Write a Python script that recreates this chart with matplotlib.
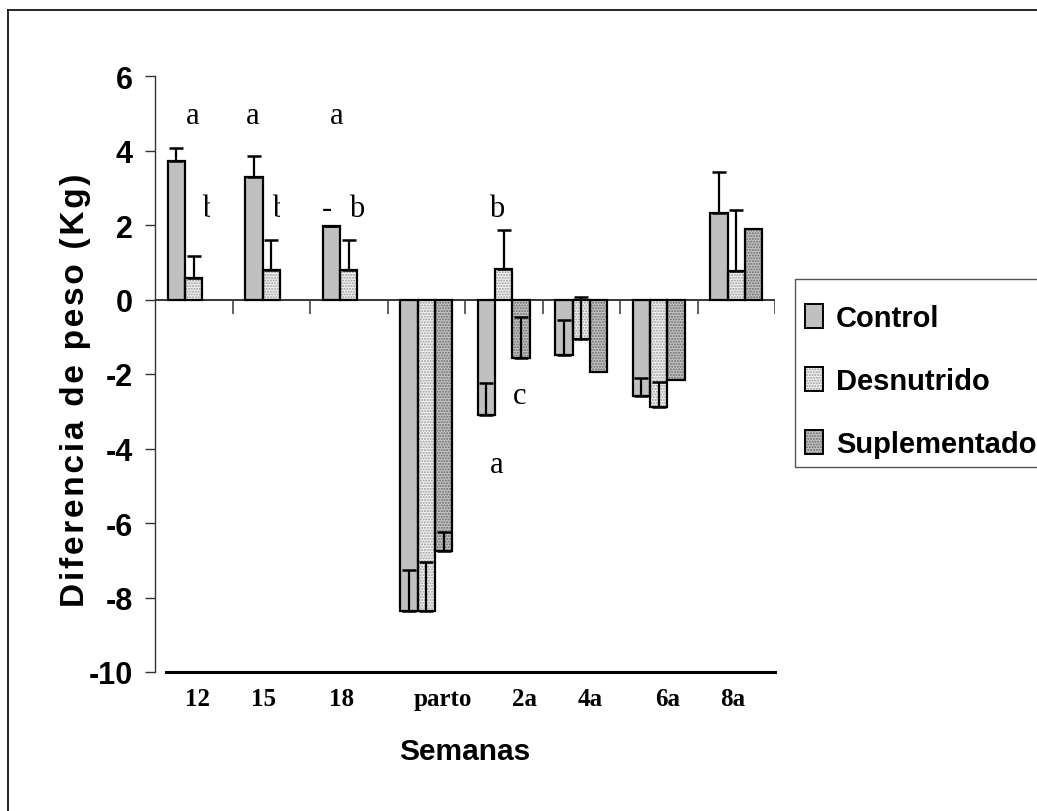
import numpy as np
import matplotlib.pyplot as plt
from matplotlib.patches import Patch, Rectangle
from matplotlib.lines import Line2D
from matplotlib.legend_handler import HandlerTuple
from matplotlib.transforms import Bbox, TransformedBbox

# weight gain per period, kg, with SE shown upward only
semanas = ['12', '15', '18', 'parto', '2a', '4a', '6a', '8a']
control = [3.72, 3.28, 1.97, -8.35, -3.10, -1.50, -2.58, 2.31]
control_err = [0.36, 0.57, 0.0, 1.09, 0.87, 0.96, 0.46, 1.12]
desnutrido = [0.57, 0.80, 0.80, -8.35, 0.81, -1.06, -2.88, 0.77]
desnutrido_err = [0.59, 0.79, 0.79, 1.30, 1.05, 1.12, 0.66, 1.63]
suplementado = [None, None, None, -6.75, -1.57, -1.94, -2.17, 1.89]
suplementado_err = [0, 0, 0, 0.50, 1.11, 0, 0, 0]
grupos = ['Control', 'Desnutrido', 'Suplementado']

# small shifts of the week labels under each group
label_shift = [0.05, -0.10, -0.09, 0.22, 0.27, 0.12, 0.12, -0.04]

# significance letters: group index, shift, height, text, half-hidden
sig_cat = [0, 1, 2, 0, 1, 2, 2, 4, 4, 4]
sig_dx = [-0.01, -0.24, -0.155, 0.206, 0.113, -0.285, 0.10, -0.09, 0.20, -0.09]
sig_y = [4.75, 4.75, 4.75, 2.25, 2.25, 2.25, 2.25, 2.25, -2.78, -4.63]
sig_txt = ['a', 'a', 'a', 'b', 'b', '-', 'b', 'b', 'c', 'a']
sig_half = [False, False, False, True, True, False, False, False, False, False]

sans = ['Liberation Sans Narrow', 'Liberation Sans', 'DejaVu Sans']
serif = ['Liberation Serif', 'DejaVu Serif']
plt.rcParams['hatch.linewidth'] = 1.0

fig = plt.figure(figsize=(10.37, 8.12), dpi=100)
ax = fig.add_axes([155/1037, 1-673/812, 620/1037, 596/812])

x = np.arange(len(semanas))
w = 0.225
estilos = [('#c0c0c0', None, None),
           ('#f2f2f2', '......', '#9a9a9a'),
           ('#c4c4c4', '......', '#6a6a6a')]
datos = [(control, control_err), (desnutrido, desnutrido_err),
         (suplementado, suplementado_err)]

handles = []
for k, ((vals, errs), (fc, hatch, hc)) in enumerate(zip(datos, estilos)):
    v = np.array([np.nan if a is None else a for a in vals], float)
    e = np.array(errs, float)
    m = ~np.isnan(v)
    xs = x[m] + (k - 1) * w
    ax.bar(xs, v[m], w, color=fc, hatch=hatch, edgecolor=hc or fc,
           linewidth=0, zorder=2)
    ax.bar(xs, v[m], w, fill=False, edgecolor='black', linewidth=1.6, zorder=3)
    show = m & ((e > 0) | (k < 2))
    ax.errorbar(x[show] + (k - 1) * w, v[show],
                yerr=[np.zeros(show.sum()), e[show]], fmt='none',
                ecolor='black', elinewidth=1.6, capsize=5, capthick=1.8,
                zorder=4)
    handles.append((Patch(facecolor=fc, hatch=hatch, edgecolor=hc or fc, linewidth=0),
                    Patch(fill=False, edgecolor='black', linewidth=1.4)))

# zero line with group separators
ax.axhline(0, color='black', lw=1.1, zorder=1)
ax.vlines(np.arange(0.5, len(semanas)), 0, -0.38, color='#444444', lw=1.2)
ax.axhline(-10, xmin=0.018, xmax=1.0, color='black', lw=2.2, clip_on=False)

ax.set_xlim(-0.5, len(semanas) - 0.5)
ax.set_ylim(-10, 6)
ax.set_yticks(np.arange(-10, 7, 2))
ax.set_yticklabels([str(t) for t in range(-10, 7, 2)],
                   fontfamily=sans, fontweight='bold', fontsize=22)
ax.tick_params(axis='y', direction='out', length=7, width=1, color='#333333', pad=9)
ax.set_xticks(x + np.array(label_shift))
ax.set_xticklabels(semanas, fontfamily=serif, fontweight='bold', fontsize=18)
ax.tick_params(axis='x', length=0, pad=11)
for s in ['top', 'right', 'bottom']:
    ax.spines[s].set_visible(False)
ax.spines['left'].set_color('#333333')
ax.spines['left'].set_linewidth(1)

ax.set_xlabel('Semanas', fontfamily=sans, fontweight='bold', fontsize=21.5, labelpad=19)
ax.text(-0.129, 0.475, '\u200a'.join('Diferencia de peso (Kg)'), transform=ax.transAxes,
        rotation=90, ha='center', va='center', fontfamily=sans,
        fontweight='bold', fontsize=24)

for c, dx, yy, t, half in zip(sig_cat, sig_dx, sig_y, sig_txt, sig_half):
    tx = ax.text(c + dx, yy, t, ha='center', va='baseline', fontfamily=serif,
                 fontsize=22, zorder=5)
    if half:
        tx.set_clip_on(True)
        tx.set_clip_path(None)
        tx.set_clip_box(TransformedBbox(Bbox([[c + dx - 1, -10], [c + dx, 6]]),
                                        ax.transData))

# legend box runs past the right edge of the figure
fig.add_artist(Rectangle((795/1037, 1 - 468/812), 0.3, 188/812,
                         transform=fig.transFigure, fill=False,
                         edgecolor='#555555', linewidth=1))
leg = fig.legend(handles, grupos, handler_map={tuple: HandlerTuple(ndivide=1)},
                 loc='upper left', bbox_to_anchor=(805/1037, 1 - 305/812),
                 bbox_transform=fig.transFigure, borderaxespad=0,
                 prop={'family': sans, 'weight': 'bold', 'size': 21},
                 handlelength=0.62, handleheight=0.86, handletextpad=0.45,
                 labelspacing=1.2, borderpad=0, frameon=False)

# outer frame
fig.add_artist(Line2D([8/1037, 1], [1 - 11/812] * 2, color='black', lw=1.2))
fig.add_artist(Line2D([8/1037] * 2, [0, 1 - 11/812], color='black', lw=1.2))

fig.savefig('out.png', dpi=100)
